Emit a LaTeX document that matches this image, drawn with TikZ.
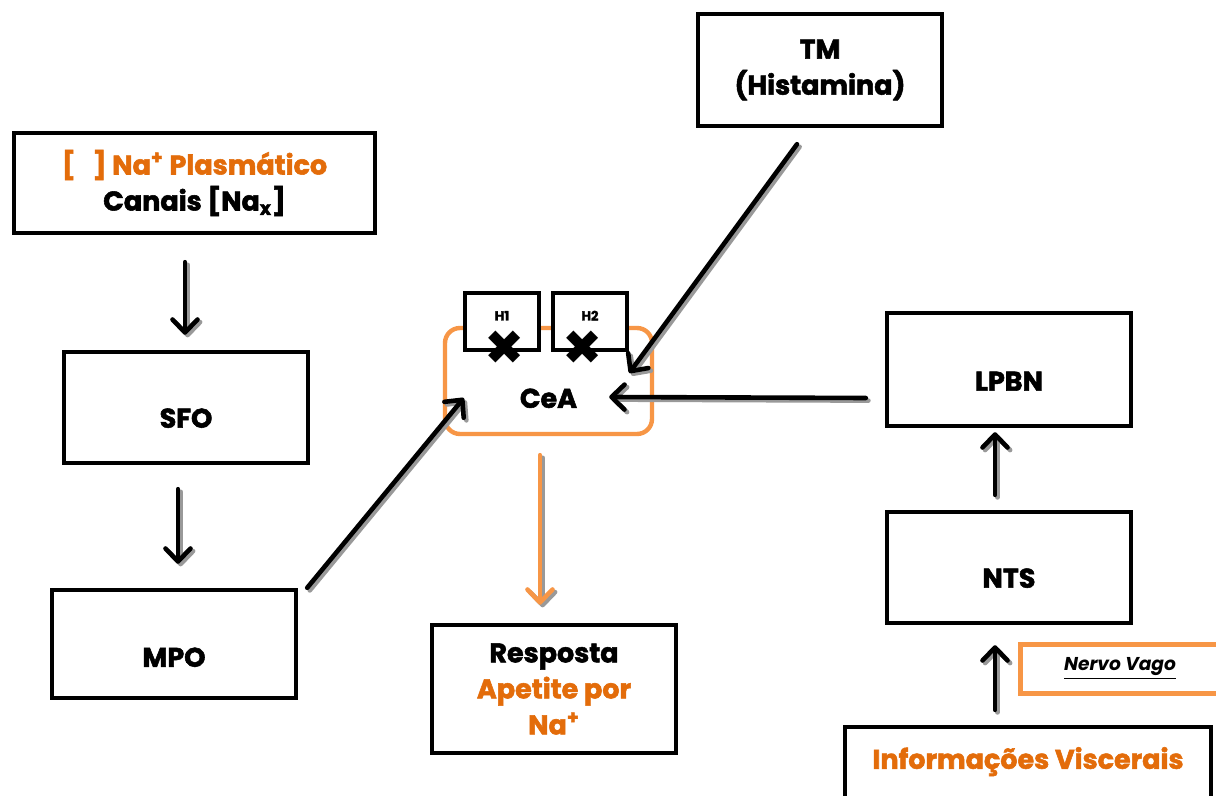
\documentclass[tikz,border=0pt]{standalone}
\usepackage{fontspec}
\setmainfont{Poppins}[BoldFeatures={FakeBold=2}]
\newfontfamily\symfont{DejaVu Sans}
\usepackage{xcolor}
\usepackage{tikz}
\usetikzlibrary{positioning, arrows.meta}
\definecolor{txtorange}{HTML}{E36C0A}
\definecolor{lineorange}{HTML}{F79646}
\newcommand{\lowtext}[2]{\raisebox{-#1}[0pt][0pt]{#2}}

\begin{document}
\begin{tikzpicture}[x=0.5pt,y=-0.5pt,font=\bfseries\fontsize{13.5}{18}\selectfont]
	\tikzstyle{box}=[draw=black,line width=2.2pt,fill=white,align=center,inner sep=0pt,minimum width=122pt]
	\tikzstyle{hbox}=[box,minimum width=37pt,minimum height=28.5pt,font=\bfseries\fontsize{6.5}{7}\selectfont]
	\tikzstyle{cross}=[inner sep=0pt,font=\symfont\fontsize{24}{24}\selectfont]
	\tikzstyle{arr}=[line width=2.3pt,line cap=round,-{Straight Barb[length=6.5pt,width=12.5pt,round]}]
	\tikzstyle{shadow}=[arr,draw=black!40,transform canvas={shift={(1.3pt,-1.3pt)}}]
	\useasboundingbox[fill=white] (0,0) rectangle (1216,796);
	% left column
	\node[box,minimum width=180.5pt,minimum height=50pt](na) at (194.5,183){\textcolor{txtorange}{[\ \ \ ] Na\textsuperscript{+} Plasmático}\\Canais [Na\textsubscript{x}]};
	\node[box,minimum height=55.5pt](sfo) at (186,407.5){\lowtext{10.1pt}{SFO}};
	\node[box,minimum height=54pt](mpo) at (174,644){\lowtext{11.4pt}{MPO}};
	% centre
	\node[box,draw=lineorange,rounded corners=7.5pt,minimum width=103.5pt,minimum height=53pt](cea) at (548.5,381){\lowtext{13.4pt}{CeA}};
	\node[hbox](h1) at (502,321.5){\lowtext{-0.5pt}{H1}};
	\node[hbox](h2) at (590,321.5){\lowtext{-0.5pt}{H2}};
	\node[cross](x1) at (505,348){✖};
	\node[cross](x2) at (583,348){✖};
	\node[box,minimum height=56pt](tm) at (820,70){TM\\(Histamina)};
	\node[box,minimum height=64pt](resp) at (554,689){Resposta\\\textcolor{txtorange}{Apetite por}\\\textcolor{txtorange}{Na\textsuperscript{+}}};
	% right column
	\node[box,minimum height=56.5pt](lpbn) at (1009,369.5){\lowtext{10.6pt}{LPBN}};
	\node[box,minimum height=55.5pt](nts) at (1009,567.5){\lowtext{10.1pt}{NTS}};
	\node[box,draw=lineorange,line width=2.5pt,minimum width=100pt,minimum height=24.5pt,font=\bfseries\itshape\fontsize{9.3}{10}\selectfont](nervo) at (1120,668.5){\underline{Nervo Vago}};
	\node[box,minimum width=183pt,minimum height=51.5pt](info) at (1028,778.5){\lowtext{-4.85pt}{\textcolor{txtorange}{Informações Viscerais}}};
	% arrow ends
	\coordinate (na-out) at ([shift={(-9.5,27)}]na.south);
	\coordinate (sfo-in) at ([shift={(-1,-15)}]sfo.north);
	\coordinate (sfo-out) at ([shift={(-8,24)}]sfo.south);
	\coordinate (mpo-in) at ([shift={(4,-24)}]mpo.north);
	\coordinate (mpo-out) at ([shift={(9,0)}]mpo.north east);
	\coordinate (cea-in1) at ([shift={(21,17)}]cea.west);
	\coordinate (tm-out) at ([shift={(-23,16)}]tm.south);
	\coordinate (cea-in2) at ([shift={(-25,-8)}]cea.east);
	\coordinate (lpbn-out) at ([shift={(-19,28.5)}]lpbn.west);
	\coordinate (cea-in3) at ([shift={(-45,16)}]cea.east);
	\coordinate (nts-out) at ([shift={(-14,-15)}]nts.north);
	\coordinate (lpbn-in) at ([shift={(-14,4)}]lpbn.south);
	\coordinate (info-out) at ([shift={(-33,-15)}]info.north);
	\coordinate (nts-in) at ([shift={(-14,20)}]nts.south);
	\coordinate (cea-out) at ([shift={(-8.5,19)}]cea.south);
	\coordinate (resp-in) at ([shift={(-14,-18)}]resp.north);
	% connectors (gray shadow first, then the arrow)
	\foreach \a/\b in {na-out/sfo-in, sfo-out/mpo-in, mpo-out/cea-in1, tm-out/cea-in2, lpbn-out/cea-in3, nts-out/lpbn-in, info-out/nts-in}
	{
		\draw[shadow] (\a) -- (\b);
		\draw[arr] (\a) -- (\b);
	}
	\draw[shadow] (cea-out) -- (resp-in);
	\draw[arr,draw=lineorange] (cea-out) -- (resp-in);
\end{tikzpicture}
\end{document}
